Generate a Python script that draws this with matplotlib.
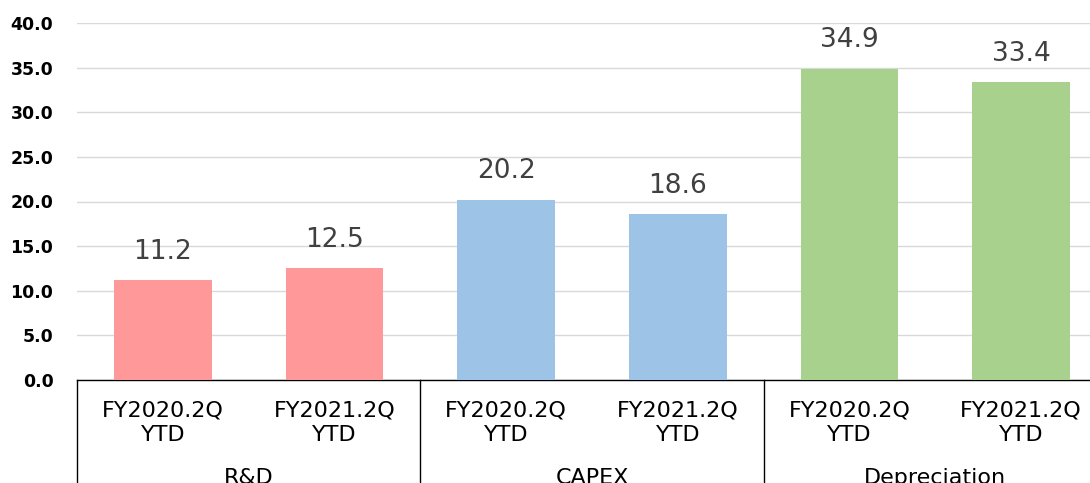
import matplotlib.pyplot as plt

# data
groups = ['R&D', 'CAPEX', 'Depreciation']
periods = ['FY2020.2Q\nYTD', 'FY2021.2Q\nYTD']
values = [11.2, 12.5, 20.2, 18.6, 34.9, 33.4]
colors = ['#FF9999', '#FF9999', '#9DC3E6', '#9DC3E6', '#A9D18E', '#A9D18E']

W, H = 1090, 483
fig = plt.figure(figsize=(W / 100, H / 100), dpi=100)
ax = fig.add_axes([77 / W, (H - 380) / H, 1030 / W, 357 / H])

x = list(range(len(values)))
ax.bar(x, values, width=0.57, color=colors, zorder=3)

for xi, v in zip(x, values):
    ax.annotate(f'{v:.1f}', (xi, v), xytext=(0, 11), textcoords='offset points',
                ha='center', va='bottom', fontsize=19, color='#404040')

ax.set_xlim(-0.5, len(values) - 0.5)
ax.set_ylim(0, 40)
ax.set_yticks(range(0, 41, 5))
ax.set_yticklabels([f'{t:.1f}' for t in range(0, 41, 5)], fontsize=12.5, fontweight='bold')
ax.tick_params(axis='y', length=0, pad=17)
ax.set_xticks([])
ax.yaxis.grid(True, color='#D9D9D9', linewidth=1, zorder=0)
for s in ['left', 'right', 'top']:
    ax.spines[s].set_visible(False)
ax.spines['bottom'].set_color('black')
ax.spines['bottom'].set_linewidth(1)

# multi-level category axis
trans = ax.get_xaxis_transform()
bottom = -110 / 357
for xv in [-0.5, 1.5, 3.5]:
    ax.plot([xv, xv], [0, bottom], color='black', lw=1, transform=trans, clip_on=False)

for i, xi in enumerate(x):
    ax.text(xi, -0.12, periods[i % 2], transform=trans, ha='center', va='center',
            fontsize=16, linespacing=1.3, color='black')

for g, name in enumerate(groups):
    ax.text(2 * g + 0.5, -0.247, name, transform=trans, ha='center', va='top',
            fontsize=16, color='black')

fig.savefig('out.png', dpi=100)
